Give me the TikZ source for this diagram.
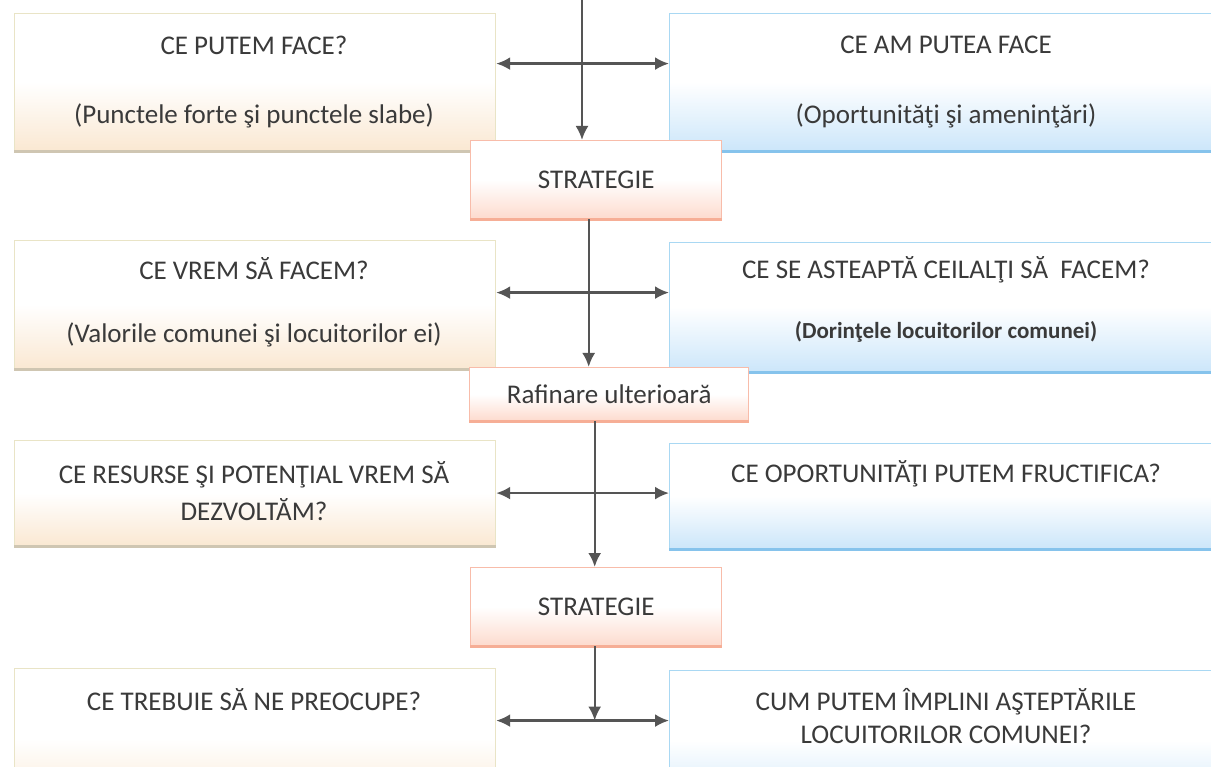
\documentclass[tikz,border=0pt]{standalone}
\usepackage{fontspec}
\setmainfont{Carlito}
\usepackage{tikz}
\usepackage{xcolor}
\usetikzlibrary{arrows.meta}
\usetikzlibrary{positioning}

\definecolor{lborder}{HTML}{E9E4C6}
\definecolor{lfill}{HTML}{FAE8D2}
\definecolor{lshade}{HTML}{CFC6B2}
\definecolor{rborder}{HTML}{A9D8F3}
\definecolor{rfill}{HTML}{CCE6FA}
\definecolor{rshade}{HTML}{86C3EC}
\definecolor{sborder}{HTML}{F8BCAA}
\definecolor{sfill}{HTML}{FDDBCE}
\definecolor{sshade}{HTML}{F6AE96}
\definecolor{txtgray}{HTML}{3A3A3A}
\definecolor{arrgray}{HTML}{555555}

\begin{document}
\begin{tikzpicture}[x=1pt, y=-1pt,
	lbox/.style={draw=lborder, line width=1.2pt, top color=white, bottom color=lfill, middle color=white, anchor=north west, inner sep=0pt},
	rbox/.style={draw=rborder, line width=1.2pt, top color=white, bottom color=rfill, middle color=white, anchor=north west, inner sep=0pt},
	sbox/.style={draw=sborder, line width=1.4pt, top color=white, bottom color=sfill, middle color=white, anchor=north west, inner sep=0pt,
		text=txtgray, font=\fontsize{27}{32}\selectfont},
	shade/.style={line width=3pt},
	txt/.style={text=txtgray, font=\fontsize{27}{33}\selectfont, align=center, inner sep=0pt},
	link/.style={draw=arrgray, line width=2.4pt, -{Latex[length=14pt, width=13pt]}},
	both/.style={draw=arrgray, line width=2.4pt, {Latex[length=14pt, width=13pt]}-{Latex[length=14pt, width=13pt]}}]
				\useasboundingbox[fill=white] (0,0) rectangle (1211,767);
				% boxes, left and right
				\node[lbox, minimum width=481pt, minimum height=137pt] (l1) at (14,13) {};
				\node[rbox, minimum width=554pt, minimum height=137pt] (r1) at (669,13) {};
				\node[lbox, minimum width=481pt, minimum height=128pt] (l2) at (14,240) {};
				\node[rbox, minimum width=554pt, minimum height=129pt] (r2) at (669,242) {};
				\node[lbox, minimum width=481pt, minimum height=105pt] (l3) at (14,440) {};
				\node[rbox, minimum width=554pt, minimum height=105pt] (r3) at (669,443) {};
				\node[lbox, minimum width=481pt, minimum height=140pt] (l4) at (14,668) {};
				\node[rbox, minimum width=554pt, minimum height=140pt] (r4) at (669,670) {};
				\draw[shade, lshade] (l1.south west) -- (l1.south east);
				\draw[shade, lshade] (l2.south west) -- (l2.south east);
				\draw[shade, lshade] (l3.south west) -- (l3.south east);
				\draw[shade, rshade] (r1.south west) -- (r1.south east);
				\draw[shade, rshade] (r2.south west) -- (r2.south east);
				\draw[shade, rshade] (r3.south west) -- (r3.south east);
				% middle boxes
				\node[sbox, minimum width=251pt, minimum height=78pt] (strat1) at (470,140) {STRATEGIE};
				\node[sbox, minimum width=279pt, minimum height=53pt] (raf) at (469,367) {Rafinare ulterioară};
				\node[sbox, minimum width=251pt, minimum height=78pt] (strat2) at (470,567) {STRATEGIE};
				\draw[shade, sshade] (strat1.south west) -- (strat1.south east);
				\draw[shade, sshade] (raf.south west) -- (raf.south east);
				\draw[shade, sshade] (strat2.south west) -- (strat2.south east);
				% texts
				\node[txt] (t1a) at (254,45) {CE PUTEM FACE?};
				\node[txt] (t1b) at (254,116) {(Punctele forte şi punctele slabe)};
				\node[txt] (u1a) at (946,45) {CE AM PUTEA FACE};
				\node[txt] (u1b) at (946,116) {(Oportunităţi şi ameninţări)};
				\node[txt] (t2a) at (254,269) {CE VREM SĂ FACEM?};
				\node[txt] (t2b) at (254,335) {(Valorile comunei şi locuitorilor ei)};
				\node[txt] (u2a) at (946,270) {CE SE ASTEAPTĂ CEILALŢI SĂ\ \ FACEM?};
				\node[txt, font=\fontsize{23}{28}\selectfont\bfseries] (u2b) at (946,332) {(Dorinţele locuitorilor comunei)};
				\node[txt, font=\fontsize{27}{37}\selectfont] (t3) at (254,491) {CE RESURSE ŞI POTENŢIAL VREM SĂ\\DEZVOLTĂM?};
				\node[txt] (u3) at (946,474) {CE OPORTUNITĂŢI PUTEM FRUCTIFICA?};
				\node[txt] (t4) at (254,700) {CE TREBUIE SĂ NE PREOCUPE?};
				\node[txt] (u4) at (946,716) {CUM PUTEM ÎMPLINI AŞTEPTĂRILE\\LOCUITORILOR COMUNEI?};
				% arrows
				\coordinate (top) at (582,0);
				\coordinate (a4) at ([yshift=18pt]l4.east);
				\draw[link] (top) -- (top |- strat1.north);
				\draw[link] ([xshift=-7.5pt]strat1.south) -- ([xshift=-7.5pt]strat1.south |- raf.north);
				\draw[link] ([xshift=-14.5pt]raf.south) -- ([xshift=-14.5pt]raf.south |- strat2.north);
				\draw[link] ([xshift=-1.5pt]strat2.south) -- ([xshift=-1.5pt]strat2.south |- a4);
				\draw[both] ([yshift=18.5pt]l1.east) -- ([yshift=18.5pt]l1.east -| r1.west);
				\draw[both] ([yshift=12pt]l2.east) -- ([yshift=12pt]l2.east -| r2.west);
				\draw[both] (l3.east) -- (l3.east -| r3.west);
				\draw[both] (a4) -- (a4 -| r4.west);
			\end{tikzpicture}
\end{document}
